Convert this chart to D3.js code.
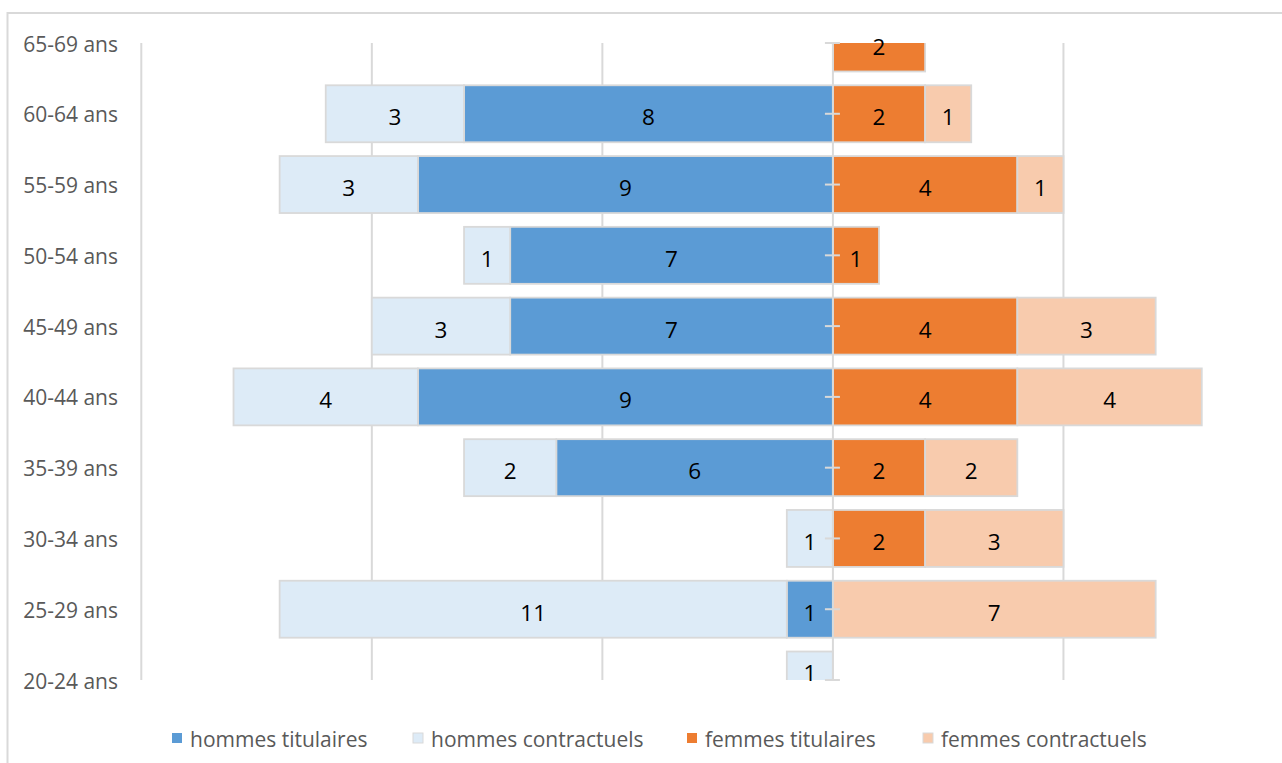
<!DOCTYPE html>
<html><head><meta charset="utf-8">
<script src="https://cdn.jsdelivr.net/npm/d3@7"></script>
<style>body{margin:0;background:#fff}svg{display:block}</style>
</head><body>
<script>
const categories = ["20-24 ans","25-29 ans","30-34 ans","35-39 ans","40-44 ans","45-49 ans","50-54 ans","55-59 ans","60-64 ans","65-69 ans"];
const hommesTitulaires   = [0, 1, 0, 6, 9, 7, 7, 9, 8, 0];
const hommesContractuels = [1, 11, 1, 2, 4, 3, 1, 3, 3, 0];
const femmesTitulaires   = [0, 0, 2, 2, 4, 4, 1, 4, 2, 2];
const femmesContractuels = [0, 7, 3, 2, 4, 3, 0, 1, 1, 0];
const seriesNames = ["hommes titulaires","hommes contractuels","femmes titulaires","femmes contractuels"];
const gridTicks = [-15, -10, -5, 0, 5, 10];

const W = 1282, H = 763;
const colors = ["#5B9BD5", "#DDEBF7", "#ED7D31", "#F8CBAD"];
const font = "'Open Sans', sans-serif";

const svg = d3.select("body").append("svg").attr("width", W).attr("height", H);

// outer chart border
svg.append("rect").attr("x", 7.5).attr("y", 13).attr("width", 1300).attr("height", 800)
  .attr("fill", "#fff").attr("stroke", "#d9d9d9").attr("stroke-width", 2);

const plotTop = 43, plotBottom = 680;
const x = d3.scaleLinear().domain([-15, 10]).range([141.3, 1294]);
const y = d3.scalePoint().domain(categories).range([plotBottom, plotTop]);
const barH = y.step() * 0.805;

svg.append("clipPath").attr("id", "plotClip").append("rect")
  .attr("x", 0).attr("y", plotTop).attr("width", W).attr("height", plotBottom - plotTop);

// gridlines
svg.append("g").selectAll("line").data(gridTicks.filter(t => t !== 0)).join("line")
  .attr("x1", d => x(d)).attr("x2", d => x(d)).attr("y1", plotTop).attr("y2", plotBottom)
  .attr("stroke", "#d9d9d9").attr("stroke-width", 2);

// build segments
const segs = [];
categories.forEach((c, i) => {
  const ht = hommesTitulaires[i], hc = hommesContractuels[i];
  const ft = femmesTitulaires[i], fc = femmesContractuels[i];
  segs.push({c, s: 0, v: ht, x0: -ht, x1: 0});
  segs.push({c, s: 1, v: hc, x0: -ht - hc, x1: -ht});
  segs.push({c, s: 2, v: ft, x0: 0, x1: ft});
  segs.push({c, s: 3, v: fc, x0: ft, x1: ft + fc});
});
const visible = segs.filter(d => d.v > 0);

const bars = svg.append("g").attr("clip-path", "url(#plotClip)");
bars.selectAll("rect").data(visible).join("rect")
  .attr("x", d => x(d.x0)).attr("width", d => x(d.x1) - x(d.x0))
  .attr("y", d => y(d.c) - barH / 2).attr("height", barH)
  .attr("fill", d => colors[d.s]).attr("stroke", "#d9d9d9").attr("stroke-width", 1.8);

// category axis at zero
const ax = svg.append("g");
ax.append("line").attr("x1", x(0)).attr("x2", x(0)).attr("y1", plotTop).attr("y2", plotBottom)
  .attr("stroke", "#d9d9d9").attr("stroke-width", 2);
ax.selectAll("line.tk").data(categories).join("line").attr("class", "tk")
  .attr("x1", x(0) - 8).attr("x2", x(0) + 7).attr("y1", d => y(d)).attr("y2", d => y(d))
  .attr("stroke", "#d9d9d9").attr("stroke-width", 2);

// data labels
svg.append("g").selectAll("text").data(visible).join("text")
  .attr("x", d => (x(d.x0) + x(d.x1)) / 2)
  .attr("y", d => Math.min(y(d.c) + 3, plotBottom - 8))
  .attr("text-anchor", "middle").attr("dominant-baseline", "central")
  .attr("font-family", font).attr("font-size", 22.5).attr("fill", "#000")
  .text(d => d.v);

// category labels
svg.append("g").selectAll("text").data(categories).join("text")
  .attr("x", 118).attr("y", d => y(d) + 0.5)
  .attr("text-anchor", "end").attr("dominant-baseline", "central")
  .attr("font-family", font).attr("font-size", 21).attr("fill", "#595959")
  .text(d => d);

// legend
const legendX = [172, 413, 687, 923];
const lg = svg.append("g");
seriesNames.forEach((n, i) => {
  lg.append("rect").attr("x", legendX[i]).attr("y", 733).attr("width", 10).attr("height", 10)
    .attr("fill", colors[i]).attr("stroke", i % 2 ? "#d9d9d9" : "none").attr("stroke-width", 1);
  lg.append("text").attr("x", legendX[i] + 18).attr("y", 739)
    .attr("dominant-baseline", "central")
    .attr("font-family", font).attr("font-size", 21).attr("fill", "#595959").text(n);
});
</script>
</body></html>
